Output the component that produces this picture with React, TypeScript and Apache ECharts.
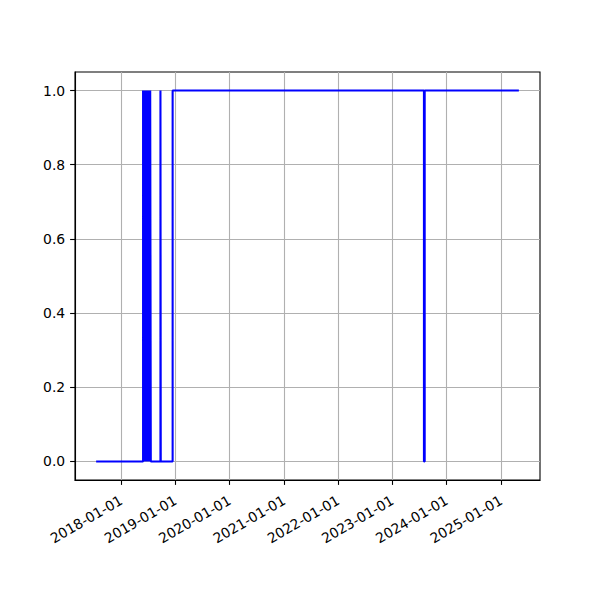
import React, { useEffect, useRef } from "react";
import * as echarts from "echarts";

// Transition dates (value holds from this date until the next one)
const dates: string[] = [
  "2017-07-16",
  "2018-05-28", "2018-05-31", "2018-06-03", "2018-06-06", "2018-06-09",
  "2018-06-12", "2018-06-15", "2018-06-18", "2018-06-21", "2018-06-24",
  "2018-06-27", "2018-06-30", "2018-07-03", "2018-07-06", "2018-07-09",
  "2018-07-12", "2018-07-15", "2018-07-19",
  "2018-09-22", "2018-09-24",
  "2018-12-13",
  "2023-08-01", "2023-08-06",
  "2025-05-01",
];
const values: number[] = [
  0,
  1, 0, 1, 0, 1,
  0, 1, 0, 1, 0,
  1, 0, 1, 0, 1,
  0, 1, 0,
  1, 0,
  1,
  0, 1,
  1,
];

const xTickLabels: string[] = [
  "2018-01-01", "2019-01-01", "2020-01-01", "2021-01-01",
  "2022-01-01", "2023-01-01", "2024-01-01", "2025-01-01",
];
const yTickValues: number[] = [0, 0.2, 0.4, 0.6, 0.8, 1.0];

const toTs = (d: string) => new Date(d + "T00:00:00Z").getTime();

export default function App() {
  const ref = useRef<HTMLDivElement>(null);
  useEffect(() => {
    if (!ref.current) return;
    const chart = echarts.init(ref.current, null, { renderer: "svg" });
    const ts = dates.map(toTs);
    const tMin = Math.min(...ts);
    const tMax = Math.max(...ts);
    const pad = (tMax - tMin) * 0.05;
    const xTicks = xTickLabels.map(toTs);
    const font = { fontFamily: "DejaVu Sans", fontSize: 13.9, color: "#000" };
    chart.setOption({
      animation: false,
      backgroundColor: "#fff",
      grid: {
        left: 75,
        top: 72,
        width: 465,
        height: 408,
        containLabel: false,
        show: true,
        borderColor: "#000",
        borderWidth: 1.1,
        backgroundColor: "transparent",
      },
      xAxis: {
        type: "value",
        min: tMin - pad,
        max: tMax + pad,
        axisLine: { show: true, onZero: false, lineStyle: { color: "#000", width: 1.1 } },
        axisTick: {
          show: true,
          inside: false,
          length: 4.9,
          customValues: xTicks,
          lineStyle: { color: "#000", width: 1.1 },
        },
        axisLabel: {
          ...font,
          rotate: 30,
          margin: 19,
          customValues: xTicks,
          formatter: (v: number) => {
            const d = new Date(v);
            const y = d.getUTCFullYear();
            const m = String(d.getUTCMonth() + 1).padStart(2, "0");
            const dd = String(d.getUTCDate()).padStart(2, "0");
            return `${y}-${m}-${dd}`;
          },
        },
        splitLine: { show: true, lineStyle: { color: "#b0b0b0", width: 1.1 } },
      },
      yAxis: {
        type: "value",
        min: -0.05,
        max: 1.05,
        axisLine: { show: true, onZero: false, lineStyle: { color: "#000", width: 1.1 } },
        axisTick: {
          show: true,
          inside: false,
          length: 4.9,
          customValues: yTickValues,
          lineStyle: { color: "#000", width: 1.1 },
        },
        axisLabel: {
          ...font,
          margin: 9.8,
          customValues: yTickValues,
          formatter: (v: number) => v.toFixed(1),
        },
        splitLine: { show: true, lineStyle: { color: "#b0b0b0", width: 1.1 } },
      },
      series: [
        {
          type: "line",
          step: "end",
          showSymbol: false,
          symbol: "none",
          clip: false,
          data: ts.map((t, i) => [t, values[i]]),
          lineStyle: { color: "#0000ff", width: 2.08 },
          itemStyle: { color: "#0000ff" },
        },
      ],
    });
    return () => chart.dispose();
  }, []);
  return (
    <div
      ref={ref}
      style={{ position: "fixed", left: 0, top: 0, width: 600, height: 600 }}
    />
  );
}
